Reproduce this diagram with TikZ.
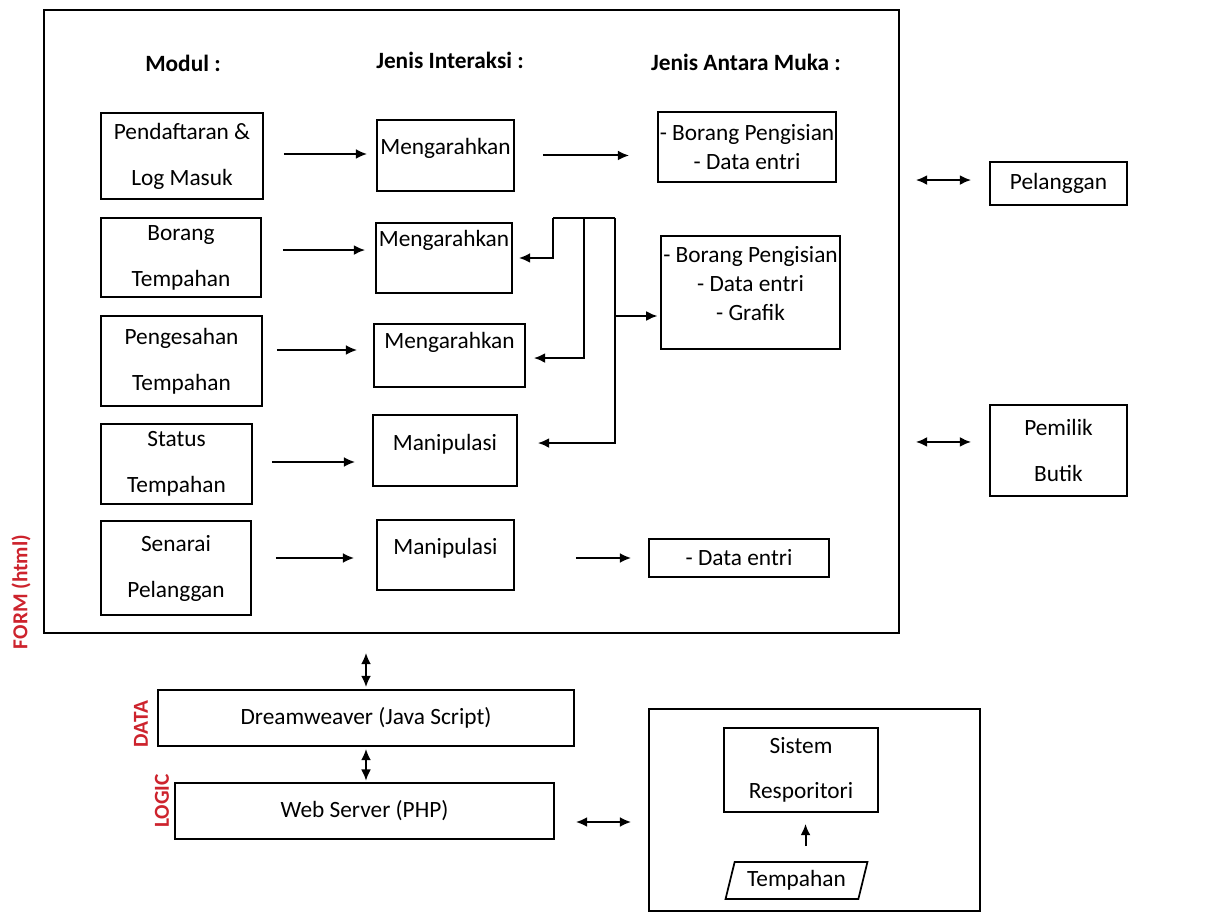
\documentclass[tikz,border=0pt]{standalone}
\usepackage{fontspec}
\setmainfont{Carlito}
\usetikzlibrary{arrows.meta,shapes.geometric}
\definecolor{labelred}{RGB}{205,35,45}
\tikzset{
  box/.style={draw, line width=1.3pt, inner sep=0pt, align=center},
  sz/.style 2 args={minimum width=#1*0.75pt, minimum height=#2*0.75pt},
  arr/.style={-{Latex[length=8.5pt,width=7.5pt]}, line width=1.5pt},
  darr/.style={{Latex[length=8.5pt,width=7.5pt]}-{Latex[length=8.5pt,width=7.5pt]}, line width=1.5pt},
  head/.style={font=\fontsize{17.5}{21.5}\selectfont\bfseries},
  layer/.style={rotate=90, text=labelred, font=\fontsize{16}{19}\selectfont\bfseries}
}
\begin{document}
\begin{tikzpicture}[x=0.75pt, y=-0.75pt, font=\fontsize{17.5}{21.5}\selectfont]
\useasboundingbox (0,0) rectangle (1214,912);

\node[box, sz={855}{623}] (form) at (471.5,321.5) {};
\node[head] (hmod) at (183,63) {Modul :};
\node[head] (hint) at (450,60) {Jenis Interaksi :};
\node[head] (hmuka) at (746,62) {Jenis Antara Muka :};

\node[box, sz={162}{86}] (m1) at (182,156) {Pendaftaran \&\\[13pt]Log Masuk};
\node[box, sz={160}{79}] (m2) at (181,257.5) {Borang\\[13pt]Tempahan};
\node[box, sz={161}{90}] (m3) at (181.5,361) {Pengesahan\\[13pt]Tempahan};
\node[box, sz={151}{80}] (m4) at (176.5,464) {Status\\[13pt]Tempahan};
\node[box, sz={150}{94}] (m5) at (176,568) {Senarai\\[13pt]Pelanggan};

\foreach \k/\x/\y/\w/\h/\ty/\txt in {1/445.5/155.5/137/71/148/Mengarahkan, 2/444/258/136/70/240/Mengarahkan, 3/449.5/355.5/151/63/342/Mengarahkan, 4/445/450.5/144/71/444/Manipulasi, 5/445.5/555/137/70/548/Manipulasi} {
  \node[box, sz={\w}{\h}] (i\k) at (\x,\y) {};
  \node (i\k t) at (\x,\ty) {\txt};
}

\node[box, sz={178}{70}] (a1) at (747,147) {- Borang Pengisian\\- Data entri};
\node[box, sz={179}{113}] (a2) at (750.5,292.5) {};
\node[align=center] (a2t) at (750.5,283.5) {- Borang Pengisian\\- Data entri\\- Grafik};
\node[box, sz={180}{38}] (a3) at (739,558) {- Data entri};

\node[box, sz={137}{43}] (p1) at (1058.5,183.5) {Pelanggan};
\node[box, sz={137}{91}] (p2) at (1058.5,450.5) {Pemilik\\[13pt]Butik};

\node[box, sz={416}{56}] (dw) at (366,718) {Dreamweaver (Java Script)};
\node[box, sz={379}{56}] (ws) at (364.5,811) {Web Server (PHP)};
\node[box, sz={331}{202}] (repo) at (814.5,810) {};
\node[box, sz={154}{84}] (sr) at (801,770) {Sistem\\[12.5pt]Resporitori};
\node[box, trapezium, trapezium left angle=70, trapezium right angle=110, trapezium stretches=true, sz={143}{37}] (tp) at (796.5,880.5) {Tempahan};

\node[layer] (lform) at (21,592) {FORM (html)};
\node[layer] (ldata) at (141,724) {DATA};
\node[layer] (llogic) at (162,801) {LOGIC};

\foreach \k/\s/\a/\b in {1/1.5/15/6.75, 2/5.6/15.75/7.5, 3/8.25/10.5/12, 4/1.5/14.25/12.75, 5/7.5/18/16.5}
  \draw[arr, shorten <=\a pt, shorten >=\b pt] ([yshift=\s pt]m\k.east) -- ([yshift=\s pt]m\k.east -| i\k.west);

\draw[arr, shorten <=21pt, shorten >=21pt] (i1.east) -- (i1.east -| a1.west);
\draw[arr, shorten <=45.75pt, shorten >=12.75pt] ([yshift=-2.25pt]i5.east) -- ([yshift=-2.25pt]i5.east -| a3.west);

\coordinate (t1) at (553,218);
\coordinate (t2) at (584,218);
\coordinate (t3) at (615,218);
\coordinate (t4) at (615,316);
\draw[line width=1.5pt] (t1) -- (t3);
\draw[arr, shorten >=4.5pt] (t1) |- (i2.east);
\draw[arr, shorten >=6pt] (t2) |- ([yshift=-1.9pt]i3.east);
\draw[arr, shorten >=15pt] (t3) |- ([yshift=5.6pt]i4.east);
\draw[arr, shorten >=2pt] (t4) -- (t4 -| a2.west);

\draw[darr, shorten <=12pt, shorten >=13.5pt] ([yshift=2.6pt]form.east |- p1.west) -- ([yshift=2.6pt]p1.west);
\draw[darr, shorten <=12pt, shorten >=13.5pt] ([yshift=6.4pt]form.east |- p2.west) -- ([yshift=6.4pt]p2.west);

\draw[darr, shorten <=14.25pt, shorten >=1.5pt] (dw.north |- form.south) -- (dw.north);
\draw[darr, shorten <=1.5pt, shorten >=1pt] (dw.south) -- (dw.south |- ws.north);
\draw[darr, shorten <=15.75pt, shorten >=12.75pt] ([yshift=-8.25pt]ws.east) -- ([yshift=-8.25pt]ws.east -| repo.west);
\draw[arr, shorten <=11.25pt, shorten >=8.25pt] ([xshift=6.75pt]tp.north) -- ([xshift=6.75pt]tp.north |- sr.south);
\end{tikzpicture}
\end{document}
